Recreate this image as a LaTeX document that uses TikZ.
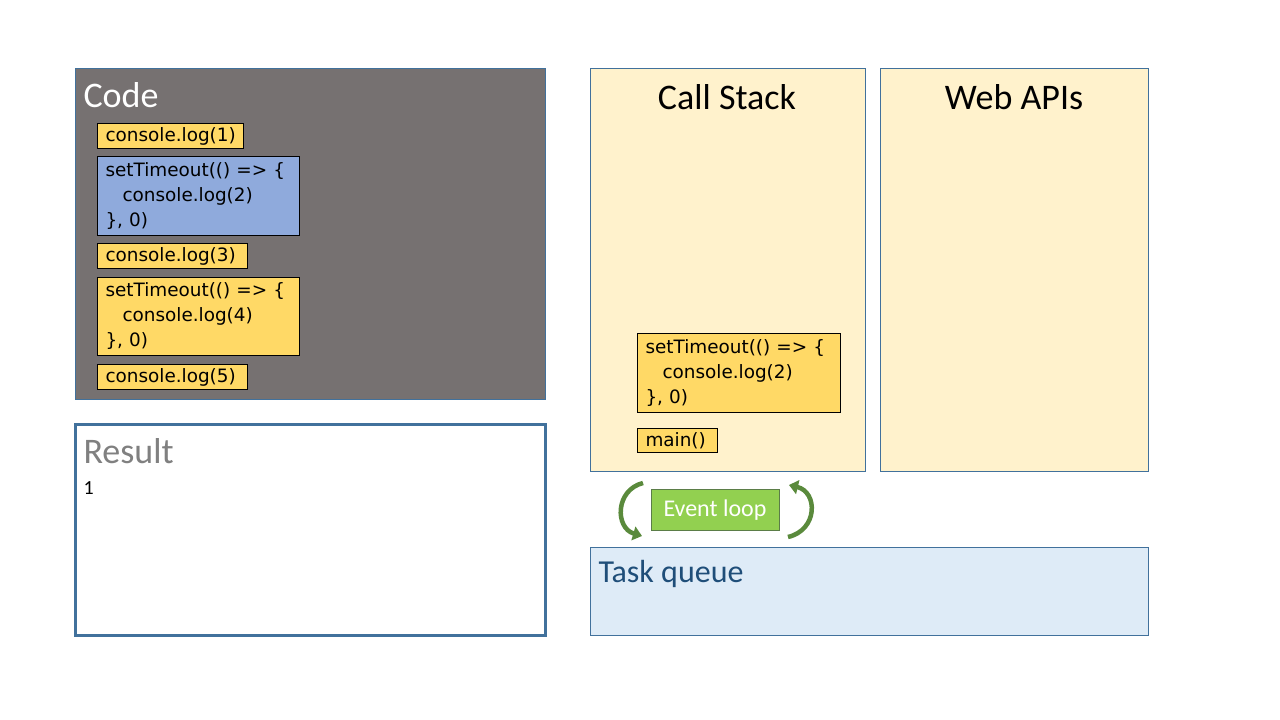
\documentclass[tikz,border=0pt]{standalone}
\usepackage{fontspec}
\setmainfont{Carlito}
\newfontfamily\codefont{DejaVu Sans}
\usetikzlibrary{arrows.meta}
\definecolor{codegray}{HTML}{767171}
\definecolor{frameblue}{HTML}{41719C}
\definecolor{codeyellow}{HTML}{FFD966}
\definecolor{codeblue}{HTML}{8FAADC}
\definecolor{stackfill}{HTML}{FFF2CC}
\definecolor{queuefill}{HTML}{DEEBF7}
\definecolor{queueblue}{HTML}{1F4E79}
\definecolor{loopgreen}{HTML}{92D050}
\definecolor{loopborder}{HTML}{5B7D48}
\definecolor{arrowgreen}{HTML}{5A8A3C}
\tikzset{
  panel/.style={draw=frameblue,line width=1pt,anchor=north west,inner sep=0pt},
  codebox/.style={draw=black,line width=1pt,fill=codeyellow,anchor=north west,align=left,
    inner xsep=8pt,inner ysep=0pt,font=\codefont\fontsize{18.4}{25}\selectfont},
  title/.style={anchor=base,font=\fontsize{36}{40}\selectfont},
  looparrow/.style={draw=arrowgreen,line width=4.5pt,-{Triangle[width=14pt,length=9pt]}}
}
\newcommand{\ind}{\hspace*{17pt}}
\begin{document}
\begin{tikzpicture}[x=1pt,y=-1pt]
	\fill[white] (0,0) rectangle (1280,720);
	\useasboundingbox (0,0) rectangle (1280,720);
	% panels
	\node[panel,fill=codegray,minimum width=470pt,minimum height=331pt] (code) at (75,68) {};
	\node[panel,line width=3pt,fill=white,minimum width=470pt,minimum height=211pt] (result) at (74,423) {};
	\node[panel,fill=stackfill,minimum width=275pt,minimum height=403pt] (stack) at (590,68) {};
	\node[panel,fill=stackfill,minimum width=268pt,minimum height=403pt] (webapi) at (880,68) {};
	\node[panel,fill=queuefill,minimum width=558pt,minimum height=88pt] (queue) at (590,547) {};
	% titles
	\node[title,anchor=base west,text=white] (codetitle) at (80,107) {Code};
	\node[title,anchor=base west,text=black!50] (resulttitle) at (80,463) {Result};
	\node[title] (stacktitle) at (727,109) {Call Stack};
	\node[title] (webtitle) at (1014,109) {Web APIs};
	\node[anchor=base west,text=queueblue,font=\fontsize{32}{36}\selectfont] (queuetitle) at (595,582) {Task queue};
	\node[anchor=base west,font=\fontsize{20}{22}\selectfont] (outone) at (80,494) {1};
	% code
	\node[codebox,text width=130pt,minimum height=25pt] (logone) at (97,123) {console.log(1)};
	\node[codebox,fill=codeblue,text width=186pt,minimum height=79pt] (timertwo) at (97,156)
		{setTimeout(() => \{\\\ind console.log(2)\\\}, 0)};
	\node[codebox,text width=134pt,minimum height=25pt] (logthree) at (97,243) {console.log(3)};
	\node[codebox,text width=186pt,minimum height=78pt] (timerfour) at (97,277)
		{setTimeout(() => \{\\\ind console.log(4)\\\}, 0)};
	\node[codebox,text width=134pt,minimum height=25pt] (logfive) at (97,364) {console.log(5)};
	% call stack
	\node[codebox,text width=187pt,minimum height=79pt] (stacktimer) at (637,333)
		{setTimeout(() => \{\\\ind console.log(2)\\\}, 0)};
	\node[codebox,text width=64pt,minimum height=24pt] (stackmain) at (637,428) {main()};
	% event loop
	\node[draw=loopborder,line width=1pt,fill=loopgreen,text=white,minimum width=128pt,minimum height=41pt,
		text depth=2pt,font=\fontsize{24}{28}\selectfont] (loop) at (715,509.5) {Event loop};
	\coordinate (lefttop) at (643,483);
	\coordinate (leftbot) at (642,536);
	\coordinate (rightbot) at (788,537);
	\coordinate (righttop) at (789,485);
	\draw[looparrow] (lefttop) .. controls (615,490) and (615,528) .. (leftbot);
	\draw[looparrow] (rightbot) .. controls (818,530) and (818,492) .. (righttop);
\end{tikzpicture}
\end{document}
